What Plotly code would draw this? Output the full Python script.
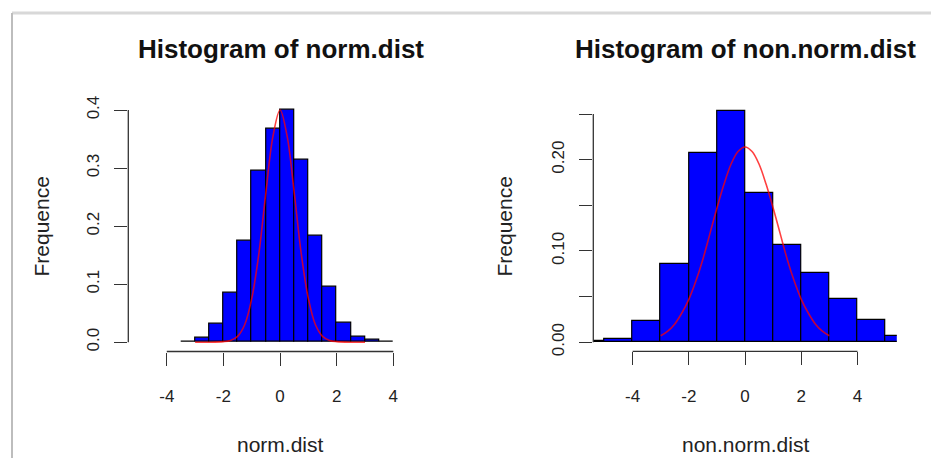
import plotly.graph_objects as go

# page is rendered with an 8px body margin; figure fills the rest of the window
OFF = 8
W, H = 939 - OFF, 463 - OFF
# observed vertical mapping of the snapshot: img_y ~= VS * page_y + VB
VS, VB = 0.972, 5.0

# ---- data: left histogram (norm.dist) ----
norm_edges = [-3.5, -3.0, -2.5, -2.0, -1.5, -1.0, -0.5, 0.0, 0.5, 1.0, 1.5, 2.0, 2.5, 3.0, 3.5, 4.0]
norm_density = [0.001, 0.008, 0.032, 0.086, 0.174, 0.296, 0.367, 0.400, 0.315, 0.183, 0.096, 0.034, 0.010, 0.004, 0.001]
norm_curve_x = [-3.0, -2.5, -2.0, -1.75, -1.5, -1.25, -1.0, -0.75, -0.5, -0.25, 0.0,
                0.25, 0.5, 0.75, 1.0, 1.25, 1.5, 1.75, 2.0, 2.5, 3.0]
norm_curve_y = [0.000, 0.000, 0.001, 0.003, 0.010, 0.030, 0.075, 0.152, 0.258, 0.355, 0.400,
                0.355, 0.258, 0.152, 0.075, 0.030, 0.010, 0.003, 0.001, 0.000, 0.000]

# ---- data: right histogram (non.norm.dist) ----
nonnorm_edges = [-6, -5, -4, -3, -2, -1, 0, 1, 2, 3, 4, 5, 6]
nonnorm_density = [0.001, 0.004, 0.023, 0.086, 0.207, 0.253, 0.164, 0.107, 0.076, 0.047, 0.024, 0.007]
nonnorm_curve_x = [-3.0, -2.75, -2.5, -2.25, -2.0, -1.75, -1.5, -1.25, -1.0, -0.75, -0.5, -0.25, 0.0,
                   0.25, 0.5, 0.75, 1.0, 1.25, 1.5, 1.75, 2.0, 2.25, 2.5, 2.75, 3.0]
nonnorm_curve_y = [0.007, 0.012, 0.020, 0.032, 0.047, 0.067, 0.091, 0.119, 0.147, 0.173, 0.195, 0.209, 0.214,
                   0.209, 0.195, 0.173, 0.147, 0.119, 0.091, 0.067, 0.047, 0.032, 0.020, 0.012, 0.007]

left_xticks = [-4, -2, 0, 2, 4]
left_yticks = [0.0, 0.1, 0.2, 0.3, 0.4]
left_yticklabels = ["0.0", "0.1", "0.2", "0.3", "0.4"]
right_xticks = [-4, -2, 0, 2, 4]
right_yticks = [0.0, 0.05, 0.10, 0.15, 0.20, 0.25]
right_yticklabels = ["0.00", "", "0.10", "", "0.20", ""]

FONT = "Liberation Sans, Arial, Helvetica, sans-serif"
AXC = "#333333"


def px(x):
    return (x - OFF) / W


def py(y):
    page = (y - VB) / VS
    return min(1.0, 1 - (page - OFF) / H)


def centers(edges):
    return [(a + b) / 2 for a, b in zip(edges[:-1], edges[1:])]


def widths(edges):
    return [b - a for a, b in zip(edges[:-1], edges[1:])]


fig = go.Figure()

fig.add_trace(go.Bar(x=centers(norm_edges), y=norm_density, width=widths(norm_edges),
                     marker=dict(color="#0000FF", line=dict(color="#000000", width=1.2)),
                     xaxis="x", yaxis="y", showlegend=False))
fig.add_trace(go.Scatter(x=norm_curve_x, y=norm_curve_y, mode="lines", line_shape="spline",
                         line=dict(color="rgba(255,0,0,0.75)", width=1.6),
                         xaxis="x", yaxis="y", showlegend=False))

fig.add_trace(go.Bar(x=centers(nonnorm_edges), y=nonnorm_density, width=widths(nonnorm_edges),
                     marker=dict(color="#0000FF", line=dict(color="#000000", width=1.2)),
                     xaxis="x2", yaxis="y2", showlegend=False))
fig.add_trace(go.Scatter(x=nonnorm_curve_x, y=nonnorm_curve_y, mode="lines", line_shape="spline",
                         line=dict(color="rgba(255,0,0,0.75)", width=1.6),
                         xaxis="x2", yaxis="y2", showlegend=False))

tickfont = dict(family=FONT, size=17, color="#222222")
common_x = dict(showgrid=False, zeroline=False, showline=False, ticks="outside", ticklen=13,
                tickwidth=1.3, tickcolor=AXC, tickfont=tickfont, ticklabelstandoff=16, fixedrange=True)
common_y = dict(showgrid=False, zeroline=False, showline=False, ticks="outside", ticklen=13,
                tickwidth=1.3, tickcolor=AXC, tickfont=tickfont, tickangle=-90, ticklabelstandoff=9,
                fixedrange=True)

fig.update_layout(
    width=W, height=H,
    margin=dict(l=0, r=0, t=0, b=0),
    paper_bgcolor="white", plot_bgcolor="white",
    bargap=0,
    xaxis=dict(domain=[px(128.3), px(403.5)], range=[-5.36, 4.36], anchor="y",
               tickmode="array", tickvals=left_xticks, ticktext=[str(v) for v in left_xticks], **common_x),
    yaxis=dict(domain=[py(349.2), py(100.0)], range=[-0.016, 0.416], anchor="x",
               tickmode="array", tickvals=left_yticks, ticktext=left_yticklabels, **common_y),
    xaxis2=dict(domain=[px(593.3), px(896.8)], range=[-5.4, 5.4], anchor="y2",
                tickmode="array", tickvals=right_xticks, ticktext=[str(v) for v in right_xticks], **common_x),
    yaxis2=dict(domain=[py(349.0), py(104.2)], range=[-0.01, 0.26], anchor="x2",
                tickmode="array", tickvals=right_yticks, ticktext=right_yticklabels, **common_y),
)

# R-style axis lines spanning only the tick range
line_style = dict(color=AXC, width=1.3)
fig.add_shape(type="line", xref="x domain", yref="y", x0=0, x1=0, y0=left_yticks[0], y1=left_yticks[-1], line=line_style)
fig.add_shape(type="line", xref="x", yref="y domain", x0=left_xticks[0], x1=left_xticks[-1], y0=0, y1=0, line=line_style)
fig.add_shape(type="line", xref="x2 domain", yref="y2", x0=0, x1=0, y0=right_yticks[0], y1=right_yticks[-1], line=line_style)
fig.add_shape(type="line", xref="x2", yref="y2 domain", x0=right_xticks[0], x1=right_xticks[-1], y0=0, y1=0, line=line_style)

# screenshot frame
fig.add_shape(type="line", xref="paper", yref="paper", x0=px(12), x1=1, y0=py(12.5), y1=py(12.5),
              line=dict(color="#d8d8d8", width=3))
fig.add_shape(type="line", xref="paper", yref="paper", x0=px(12), x1=px(12), y0=py(12.5), y1=0,
              line=dict(color="#bdbdbd", width=2))

ann_font = dict(family=FONT, size=21, color="#222222")
title_font = dict(family=FONT, size=26, color="#111111")
annotations = [
    dict(text="<b>Histogram of norm.dist</b>", x=px(280.5), y=py(49), font=title_font),
    dict(text="<b>Histogram of non.norm.dist</b>", x=px(745), y=py(49), font=title_font),
    dict(text="norm.dist", x=px(280.5), y=py(442), font=ann_font),
    dict(text="non.norm.dist", x=px(745), y=py(442), font=ann_font),
    dict(text="Frequence", x=px(42), y=py(225), font=ann_font, textangle=-90),
    dict(text="Frequence", x=px(505), y=py(225), font=ann_font, textangle=-90),
]
for a in annotations:
    fig.add_annotation(xref="paper", yref="paper", showarrow=False, xanchor="center", yanchor="middle", **a)

fig.write_html("out.html")
